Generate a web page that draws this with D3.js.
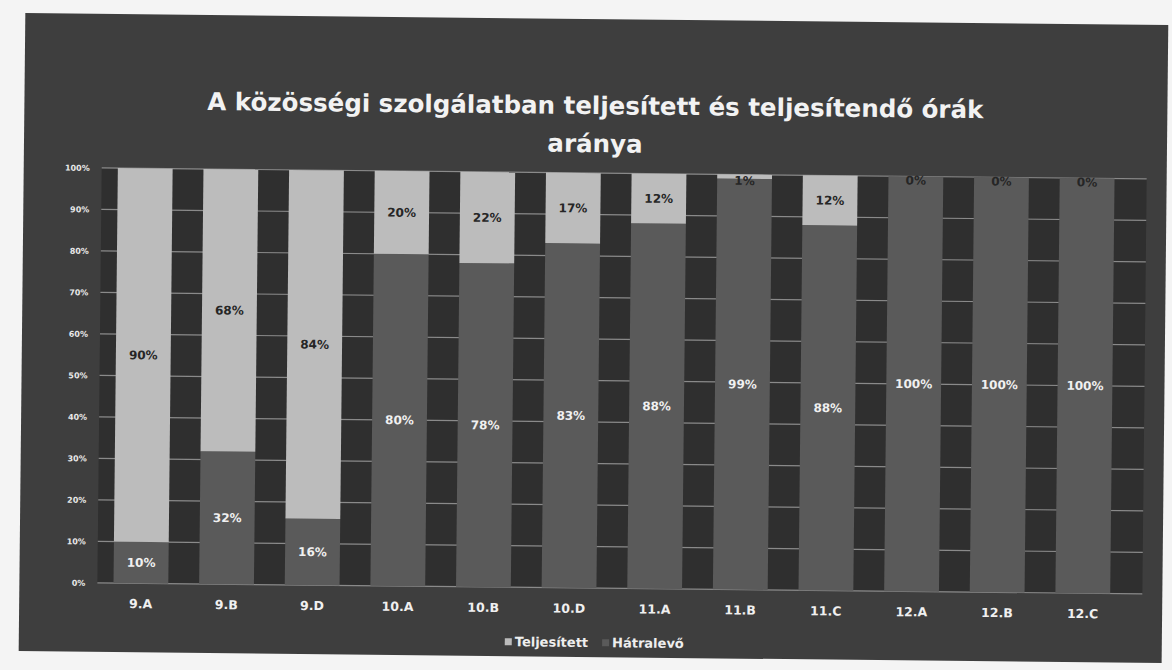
<!DOCTYPE html>
<html>
<head>
<meta charset="utf-8">
<script src="https://cdn.jsdelivr.net/npm/d3@7"></script>
<style>
  body { margin: 0; background: #f4f4f4; }
  svg { display: block; }
</style>
</head>
<body>
<div class="chart"></div>
<script>
var classes = ["9.A", "9.B", "9.D", "10.A", "10.B", "10.D", "11.A", "11.B", "11.C", "12.A", "12.B", "12.C"];
// bottom (dark) segment and top (light) segment, percent
var hatralevo = [10, 32, 16, 80, 78, 83, 88, 99, 88, 100, 100, 100];
var teljesitett = [90, 68, 84, 20, 22, 17, 12, 1, 12, 0, 0, 0];
var yTicks = [0, 10, 20, 30, 40, 50, 60, 70, 80, 90, 100];
var titleLines = ["A közösségi szolgálatban teljesített és teljesítendő órák", "aránya"];

var svgWidth = 1172;
var svgHeight = 670;

var svg = d3.select(".chart")
  .append("svg")
  .attr("width", svgWidth)
  .attr("height", svgHeight);

// the photo is tilted a little
var g = svg.append("g")
  .attr("transform", "rotate(0.6, 586, 335)");

g.append("rect")
  .attr("x", 22).attr("y", 19)
  .attr("width", 1143).attr("height", 638)
  .attr("fill", "#3e3e3e");

var plotTop = 173, plotBottom = 588;
var font = "'DejaVu Sans', sans-serif";

var xScale = d3.scaleBand()
  .domain(classes)
  .range([99, 1130])
  .paddingInner(0.36)
  .paddingOuter(0.2);

var yScale = d3.scaleLinear()
  .domain([0, 100])
  .range([plotBottom, plotTop]);

// plot area
g.append("rect")
  .attr("x", 100).attr("y", plotTop)
  .attr("width", 1045).attr("height", plotBottom - plotTop)
  .attr("fill", "#2f2f2f");

// gridlines
g.selectAll(".grid")
  .data(yTicks)
  .enter()
  .append("line")
  .attr("x1", 100).attr("x2", 1145)
  .attr("y1", d => yScale(d)).attr("y2", d => yScale(d))
  .attr("stroke", "#8a8a8a")
  .attr("stroke-width", 1.2);

// y axis labels
var leftAxis = d3.axisLeft(yScale).tickValues(yTicks).tickFormat(d => d + "%").tickSize(0).tickPadding(8);
var yAxisG = g.append("g")
  .attr("transform", "translate(96,0)")
  .call(leftAxis);
yAxisG.select(".domain").remove();
yAxisG.selectAll("text")
  .attr("fill", "#e8e8e8")
  .style("font-family", font)
  .style("font-weight", "bold")
  .style("font-size", "8px");

var rows = classes.map(function(c, i) {
  return { cls: c, dark: hatralevo[i], light: teljesitett[i] };
});

// bottom dark segments
g.selectAll(".darkBar")
  .data(rows)
  .enter()
  .append("rect")
  .attr("x", d => xScale(d.cls))
  .attr("width", xScale.bandwidth())
  .attr("y", d => yScale(d.dark))
  .attr("height", d => yScale(0) - yScale(d.dark))
  .attr("fill", "#5a5a5a");

// top light segments
g.selectAll(".lightBar")
  .data(rows)
  .enter()
  .append("rect")
  .attr("x", d => xScale(d.cls))
  .attr("width", xScale.bandwidth())
  .attr("y", d => yScale(d.dark + d.light))
  .attr("height", d => yScale(d.dark) - yScale(d.dark + d.light))
  .attr("fill", "#bcbcbc");

g.selectAll(".darkLabel")
  .data(rows)
  .enter()
  .append("text")
  .attr("x", d => xScale(d.cls) + xScale.bandwidth() / 2)
  .attr("y", d => yScale(d.dark / 2))
  .attr("dy", "0.35em")
  .attr("text-anchor", "middle")
  .attr("fill", "#f0f0f0")
  .style("font-family", font)
  .style("font-weight", "bold")
  .style("font-size", "12px")
  .text(d => d.dark + "%");

g.selectAll(".lightLabel")
  .data(rows)
  .enter()
  .append("text")
  .attr("x", d => xScale(d.cls) + xScale.bandwidth() / 2)
  .attr("y", d => yScale(d.dark + d.light / 2) + (d.light < 3 ? 4 : 0))
  .attr("dy", "0.35em")
  .attr("text-anchor", "middle")
  .attr("fill", "#262626")
  .style("font-family", font)
  .style("font-weight", "bold")
  .style("font-size", "12px")
  .text(d => d.light + "%");

// x axis labels
var bottomAxis = d3.axisBottom(xScale).tickSize(0).tickPadding(16);
var xAxisG = g.append("g")
  .attr("transform", `translate(0, ${plotBottom})`)
  .call(bottomAxis);
xAxisG.select(".domain").remove();
xAxisG.selectAll("text")
  .attr("fill", "#f0f0f0")
  .style("font-family", font)
  .style("font-weight", "bold")
  .style("font-size", "12.5px");

// title
g.selectAll(".title")
  .data(titleLines)
  .enter()
  .append("text")
  .attr("x", 593)
  .attr("y", (d, i) => 114 + i * 38)
  .attr("text-anchor", "middle")
  .attr("fill", "#f2f2f2")
  .style("font-family", font)
  .style("font-weight", "bold")
  .style("font-size", "24.5px")
  .text(d => d);

// legend
var legendItems = [
  { name: "Teljesített", color: "#bcbcbc" },
  { name: "Hátralevő", color: "#5a5a5a" }
];
var legend = g.append("g").attr("transform", "translate(508, 647)");
var lx = 0;
legendItems.forEach(function(item) {
  legend.append("rect")
    .attr("x", lx).attr("y", -8)
    .attr("width", 7).attr("height", 7)
    .attr("fill", item.color);
  var t = legend.append("text")
    .attr("x", lx + 10).attr("y", 0)
    .attr("fill", "#eeeeee")
    .style("font-family", font)
    .style("font-weight", "bold")
    .style("font-size", "13px")
    .text(item.name);
  lx += t.node().getComputedTextLength() + 24;
});
</script>
</body>
</html>
